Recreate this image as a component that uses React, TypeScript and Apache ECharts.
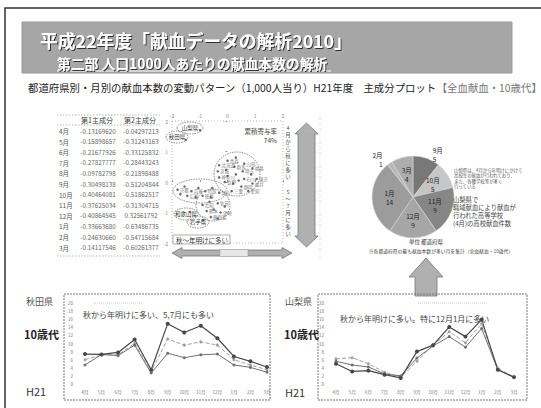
import React, { useEffect, useRef } from 'react';
import * as echarts from 'echarts';

const FONT = '"Noto Sans CJK JP", "Noto Sans", sans-serif';

// ---- data ----
const months = ['4月', '5月', '6月', '7月', '8月', '9月', '10月', '11月', '12月', '1月', '2月', '3月'];
const pc1 = [-0.1316962, -0.15898657, -0.21677926, -0.27827777, -0.09782798, -0.30498138, -0.40464081, -0.37625034, -0.40864545, -0.3366368, -0.2463066, -0.14117546];
const pc2 = [-0.04297213, -0.31243163, -0.33125832, -0.28443243, -0.21898488, -0.51204844, -0.51862517, -0.31304715, 0.32561792, -0.63486735, -0.54715684, -0.60261377];

const akitaA = [7.4, 7.3, 7.8, 11.0, 3.5, 14.9, 12.7, 14.4, 11.3, 6.8, 5.6, 4.2];
const akitaB = [6.0, 7.2, 7.2, 10.0, 3.1, 11.1, 9.6, 10.4, 9.6, 6.0, 4.7, 3.5];
const akitaC = [4.7, 7.3, 7.0, 9.6, 2.7, 7.6, 6.5, 7.2, 7.4, 4.7, 4.1, 2.9];
const yamanashiA = [5.0, 3.1, 3.3, 2.3, 1.5, 8.0, 9.6, 14.1, 11.7, 15.9, 3.5, 1.7];
const yamanashiB = [6.2, 6.5, 5.0, 2.9, 1.7, 5.6, 9.6, 12.9, 10.2, 14.9, 3.9, 1.7];
const yamanashiC = [5.6, 4.7, 4.2, 2.5, 2.0, 6.4, 9.4, 11.7, 9.1, 13.7, 3.5, 1.6];

const pieMonths = ['9月', '10月', '11月', '12月', '1月', '2月', '3月'];
const pieCounts = [5, 5, 9, 9, 14, 1, 4];
const pieColors = ['#787878', '#c6c6c6', '#868686', '#a6a6a6', '#9c9c9c', '#b8b8b8', '#adadad'];
const pieOutside = ['9月', '2月'];

const scatterNames = ['北海道', '青森', '宮城', '山形', '福島', '茨城', '栃木', '群馬', '埼玉', '千葉', '東京', '神奈川', '新潟', '富山', '石川', '福井', '長野', '岐阜', '静岡', '愛知', '三重', '滋賀',
  '京都', '大阪', '兵庫', '奈良', '鳥取', '島根', '岡山', '広島', '山口', '徳島', '香川', '愛媛',
  '高知', '福岡', '佐賀', '長崎', '熊本', '大分', '宮崎', '鹿児島', '沖縄',
  '山梨', '秋田', '和歌山', '岩手'];
const scatterX = [-0.3, 0.0, 0.3, 0.6, 0.9, -0.35, -0.05, 0.25, 0.55, 0.85, 1.05, -0.3, 0.0, 0.3, 0.6, 0.9, -0.1, 0.2, 0.5, 0.75, 0.15, 0.4,
  -1.8, -1.55, -1.3, -1.05, -0.8, -0.55, -0.3, -1.45, -1.15, -0.9, -0.6, -1.7,
  -0.9, -0.65, -0.35, -0.1, -0.75, -0.5, -0.25, -0.6, -0.35,
  -0.99, -1.5, -1.35, -0.88];
const scatterY = [0.55, 0.7, 0.8, 0.6, 0.45, 0.35, 0.4, 0.5, 0.35, 0.25, 0.1, 0.15, 0.2, 0.25, 0.1, -0.05, 0.0, -0.05, -0.15, -0.3, -0.3, 0.05,
  -0.25, -0.15, -0.3, -0.2, -0.3, -0.2, -0.35, -0.45, -0.5, -0.45, -0.5, -0.4,
  -0.75, -0.65, -0.7, -0.8, -0.95, -0.9, -1.0, -1.15, -1.2,
  1.7, 1.38, -0.98, -1.25];
const annotatedPrefs = ['山梨', '秋田', '和歌山', '岩手'];

const leftNote = '秋から年明けに多い、5,7月にも多い';
const rightNote = '秋から年明けに多い。特に12月1月に多い';

function txt(x: number, y: number, text: string, size: number, fill: string, extra: any = {}) {
  return {
    type: 'text', x, y, silent: true,
    style: {
      text, fontSize: size, fontFamily: FONT, fill,
      align: extra.align || 'left', textAlign: extra.align || 'left',
      verticalAlign: 'middle', textVerticalAlign: 'middle',
      fontWeight: extra.weight || 'normal', lineHeight: extra.lineHeight || Math.round(size * 1.2),
      ...(extra.style || {}),
    },
    z: 10,
  };
}

function vertical(s: string) { return s.split('').join('\n'); }

export default function App() {
  const ref = useRef<HTMLDivElement>(null);
  useEffect(() => {
    if (!ref.current) return;
    const chart = echarts.init(ref.current, null, { renderer: 'svg' });

    const graphic: any[] = [];
    // slide frame
    graphic.push({ type: 'polyline', shape: { points: [[5, 408], [5, 8], [541, 8]] }, style: { stroke: '#333', lineWidth: 1.5, fill: null } });
    // banner
    graphic.push({ type: 'rect', shape: { x: 22, y: 22, width: 490, height: 51 }, style: { fill: '#a6a6a6', stroke: '#999' } });
    const shadow = { textShadowColor: '#333', textShadowBlur: 1, textShadowOffsetX: 1, textShadowOffsetY: 1 };
    graphic.push(txt(40, 40, '平成22年度「献血データの解析2010」', 17.8, '#fff', { weight: 'bold', lineHeight: 18, style: shadow }));
    graphic.push(txt(57, 62.5, '第二部 人口1000人あたりの献血本数の解析', 13.8, '#fff', { weight: 'bold', lineHeight: 14, style: shadow }));
    graphic.push({ type: 'line', shape: { x1: 57, y1: 71, x2: 331, y2: 71 }, style: { stroke: '#fff', lineWidth: 1 } });
    graphic.push({
      type: 'text', x: 28, y: 87, silent: true, z: 10,
      style: {
        text: '{a|都道府県別・月別の献血本数の変動パターン（1,000人当り）H21年度　主成分プロット}{b|【全血献血・10歳代】}',
        verticalAlign: 'middle', textVerticalAlign: 'middle',
        rich: {
          a: { fontSize: 10.4, fontFamily: FONT, fill: '#222', color: '#222', lineHeight: 12 },
          b: { fontSize: 10.4, fontFamily: FONT, fill: '#777', color: '#777', lineHeight: 12 },
        },
      },
    });

    // table
    [115, 125, 256].forEach((y) => graphic.push({ type: 'line', shape: { x1: 57, y1: y, x2: 160, y2: y }, style: { stroke: '#999', lineWidth: 0.7, lineDash: [1.5, 1.5] } }));
    graphic.push(txt(97, 120, '第1主成分', 7, '#444', { align: 'center' }));
    graphic.push(txt(140, 120, '第2主成分', 7, '#444', { align: 'center' }));
    months.forEach((m, i) => {
      const y = 131 + i * 10.6;
      graphic.push(txt(59, y, m, 6.5, '#555'));
      graphic.push(txt(98, y, pc1[i].toFixed(8), 6.3, '#666', { align: 'center' }));
      graphic.push(txt(141, y, pc2[i].toFixed(8), 6.3, '#666', { align: 'center' }));
    });

    // scatter frame & annotations
    graphic.push({ type: 'rect', shape: { x: 172, y: 121, width: 111, height: 122 }, style: { fill: null, stroke: '#999', lineWidth: 0.7, lineDash: [1, 2] } });
    graphic.push(txt(277, 131, '累積寄与率', 6.5, '#444', { align: 'right' }));
    graphic.push(txt(277, 140, '74%', 6.5, '#444', { align: 'right' }));
    const ell = (cx: number, cy: number, rx: number, ry: number) => ({ type: 'ellipse', shape: { cx, cy, rx, ry }, style: { fill: null, stroke: '#777', lineWidth: 0.8, lineDash: [1.5, 1] }, z: 9 });
    graphic.push(ell(237, 174, 23, 22), ell(200, 191, 27, 12), ell(213, 205, 17, 16));
    graphic.push(ell(190, 128, 13, 6), ell(177, 137, 11, 6), ell(186, 214, 12, 6), ell(198, 222, 11, 6));
    graphic.push(txt(190, 128, '山梨県', 5.5, '#333', { align: 'center' }));
    graphic.push(txt(177, 137, '秋田県', 5.5, '#333', { align: 'center' }));
    graphic.push(txt(186, 214, '和歌山県', 5.5, '#333', { align: 'center' }));
    graphic.push(txt(198, 222, '岩手県', 5.5, '#333', { align: 'center' }));
    graphic.push({ type: 'rect', shape: { x: 173, y: 235, width: 57, height: 9 }, style: { fill: '#fff', stroke: '#777', lineWidth: 0.6 }, z: 9 });
    graphic.push(txt(176, 239.5, '秋～年明けに多い', 6.5, '#333'));
    graphic.push(txt(288, 152, vertical('4月から秋に多い'), 5.5, '#555', { align: 'center', lineHeight: 7 }));
    graphic.push(txt(288, 213, vertical('5～7月に多い'), 5.5, '#555', { align: 'center', lineHeight: 7 }));
    // arrows
    const arrowStyle = { fill: '#b0b0b0', stroke: '#777', lineWidth: 0.8 };
    graphic.push({ type: 'polygon', shape: { points: [[172, 253], [182, 247.5], [182, 250], [282, 250], [282, 247.5], [292, 253], [282, 258.5], [282, 256], [182, 256], [182, 258.5]] }, style: arrowStyle });
    graphic.push({ type: 'rect', shape: { x: 220, y: 249.5, width: 28, height: 7 }, style: { fill: '#e6e6e6', stroke: '#999', lineWidth: 0.5 } });
    graphic.push({ type: 'polygon', shape: { points: [[306.5, 123], [318, 134], [315, 134], [315, 236], [318, 236], [306.5, 247], [295, 236], [298, 236], [298, 134], [295, 134]] }, style: arrowStyle });
    graphic.push({ type: 'line', shape: { x1: 320, y1: 113, x2: 320, y2: 258 }, style: { stroke: '#aaa', lineWidth: 0.6, lineDash: [1, 2] } });

    // pie side notes
    graphic.push(txt(454, 178, '山梨県は、4月から年明けにかけて\n高校生の献血が行われており、\nまた、各種学校等が多く\n行っている', 4.4, '#555', { lineHeight: 5.6 }));
    graphic.push(txt(453, 211, '山梨県で\n職域献血により献血が\n行われた高等学校\n(4月)の高校献血件数', 6.3, '#444', { lineHeight: 8 }));
    graphic.push(txt(426, 242, '単位 都道府県', 5.5, '#333', { align: 'center' }));
    graphic.push(txt(441, 250, '※各都道府県の最も献血本数が多い月を集計（全血献血・10歳代）', 4.8, '#444', { align: 'center' }));
    // up arrow
    graphic.push({ type: 'polygon', shape: { points: [[426, 258], [443, 277], [437, 277], [437, 296], [415, 296], [415, 277], [409, 277]] }, style: arrowStyle });

    // line chart boxes and labels
    graphic.push({ type: 'rect', shape: { x: 64, y: 294, width: 206, height: 106 }, style: { fill: null, stroke: '#777', lineWidth: 1, lineDash: [2, 1] } });
    graphic.push({ type: 'rect', shape: { x: 318, y: 294, width: 209, height: 106 }, style: { fill: null, stroke: '#777', lineWidth: 1, lineDash: [2, 1] } });
    graphic.push({ type: 'line', shape: { x1: 93, y1: 303, x2: 142, y2: 303 }, style: { stroke: '#bbb', lineWidth: 0.8, lineDash: [1, 1] } });
    graphic.push({ type: 'line', shape: { x1: 418, y1: 303, x2: 487, y2: 303 }, style: { stroke: '#bbb', lineWidth: 0.8, lineDash: [1, 1] } });
    graphic.push(txt(83, 314, leftNote, 8, '#444'));
    graphic.push(txt(340, 318, rightNote, 8, '#444'));
    graphic.push(txt(26, 301, '秋田県', 9, '#555'));
    graphic.push(txt(24, 334, '10歳代', 11, '#222', { weight: 'bold' }));
    graphic.push(txt(26, 391, 'H21', 11, '#333'));
    graphic.push(txt(285, 301, '山梨県', 9, '#555'));
    graphic.push(txt(284, 334, '10歳代', 11, '#222', { weight: 'bold' }));
    graphic.push(txt(285, 392, 'H21', 11, '#333'));

    const lineX = (gi: number) => ({
      type: 'category', gridIndex: gi, data: months, boundaryGap: false,
      axisLine: { show: false }, axisTick: { show: false },
      axisLabel: { fontSize: 4.5, color: '#777', margin: 6, fontFamily: FONT, interval: 0 },
    });
    const lineY = (gi: number) => ({
      type: 'value', gridIndex: gi, min: 0, max: 20, interval: 2,
      axisLine: { show: false }, axisTick: { show: false }, splitLine: { show: false },
      axisLabel: { fontSize: 4.5, color: '#777', margin: 12, fontFamily: FONT },
    });
    const mkLine = (data: number[], gi: number, color: string, width: number, size: number, dashed = false) => ({
      type: 'line', xAxisIndex: gi, yAxisIndex: gi, data, symbol: 'circle', symbolSize: size,
      lineStyle: { color, width, type: dashed ? 'dashed' : 'solid' }, itemStyle: { color },
      silent: true,
    });

    chart.setOption({
      animation: false,
      backgroundColor: '#fff',
      textStyle: { fontFamily: FONT },
      grid: [
        { left: 85, top: 303, width: 182, height: 81 },
        { left: 336, top: 303, width: 178, height: 81 },
        { left: 172, top: 121, width: 111, height: 122 },
      ],
      xAxis: [
        lineX(0), lineX(1),
        {
          type: 'value', gridIndex: 2, min: -2, max: 2, interval: 1, position: 'top',
          axisLine: { show: false }, axisTick: { show: true, length: 2, lineStyle: { color: '#999' } },
          splitLine: { show: false }, axisLabel: { fontSize: 5, color: '#888', margin: 3 },
        },
      ],
      yAxis: [
        lineY(0), lineY(1),
        {
          type: 'value', gridIndex: 2, min: -2, max: 2, interval: 1,
          axisLine: { show: false }, axisTick: { show: true, length: 2, lineStyle: { color: '#999' } },
          splitLine: { show: false }, axisLabel: { fontSize: 5, color: '#888', margin: 4 },
        },
      ],
      series: [
        mkLine(akitaB, 0, '#a0a0a0', 1, 3, true),
        mkLine(akitaC, 0, '#707070', 1, 3),
        mkLine(akitaA, 0, '#484848', 1.2, 4),
        mkLine(yamanashiB, 1, '#a0a0a0', 1, 3, true),
        mkLine(yamanashiC, 1, '#707070', 1, 3),
        mkLine(yamanashiA, 1, '#484848', 1.2, 4),
        {
          type: 'scatter', xAxisIndex: 2, yAxisIndex: 2, symbolSize: 2.5, silent: true,
          itemStyle: { color: '#444' },
          data: scatterX.map((x, i) => ({
            name: scatterNames[i], value: [x, scatterY[i]],
            label: annotatedPrefs.includes(scatterNames[i]) ? { show: false } : undefined,
          })),
          label: { show: true, formatter: '{b}', fontSize: 4.5, color: '#555', position: 'right', distance: 1 },
          labelLayout: { hideOverlap: true },
        },
        {
          type: 'pie', center: [413, 197], radius: 41, startAngle: 90, clockwise: true, silent: true,
          data: pieMonths.map((m, i) => ({
            name: m, value: pieCounts[i], itemStyle: { color: pieColors[i] },
            label: pieOutside.includes(m) ? { position: 'outside', distance: 6 } : undefined,
            labelLine: { show: false },
          })),
          itemStyle: { borderColor: '#ddd', borderWidth: 0.5 },
          label: { position: 'inside', formatter: '{b}\n{c}', fontSize: 6.5, color: '#222', lineHeight: 9, fontFamily: FONT },
          labelLine: { show: false, length: 4, length2: 0 },
        },
      ],
      graphic,
    });
    return () => chart.dispose();
  }, []);
  return <div ref={ref} style={{ position: 'absolute', left: 0, top: 0, width: 541, height: 408, background: '#fff' }} />;
}
